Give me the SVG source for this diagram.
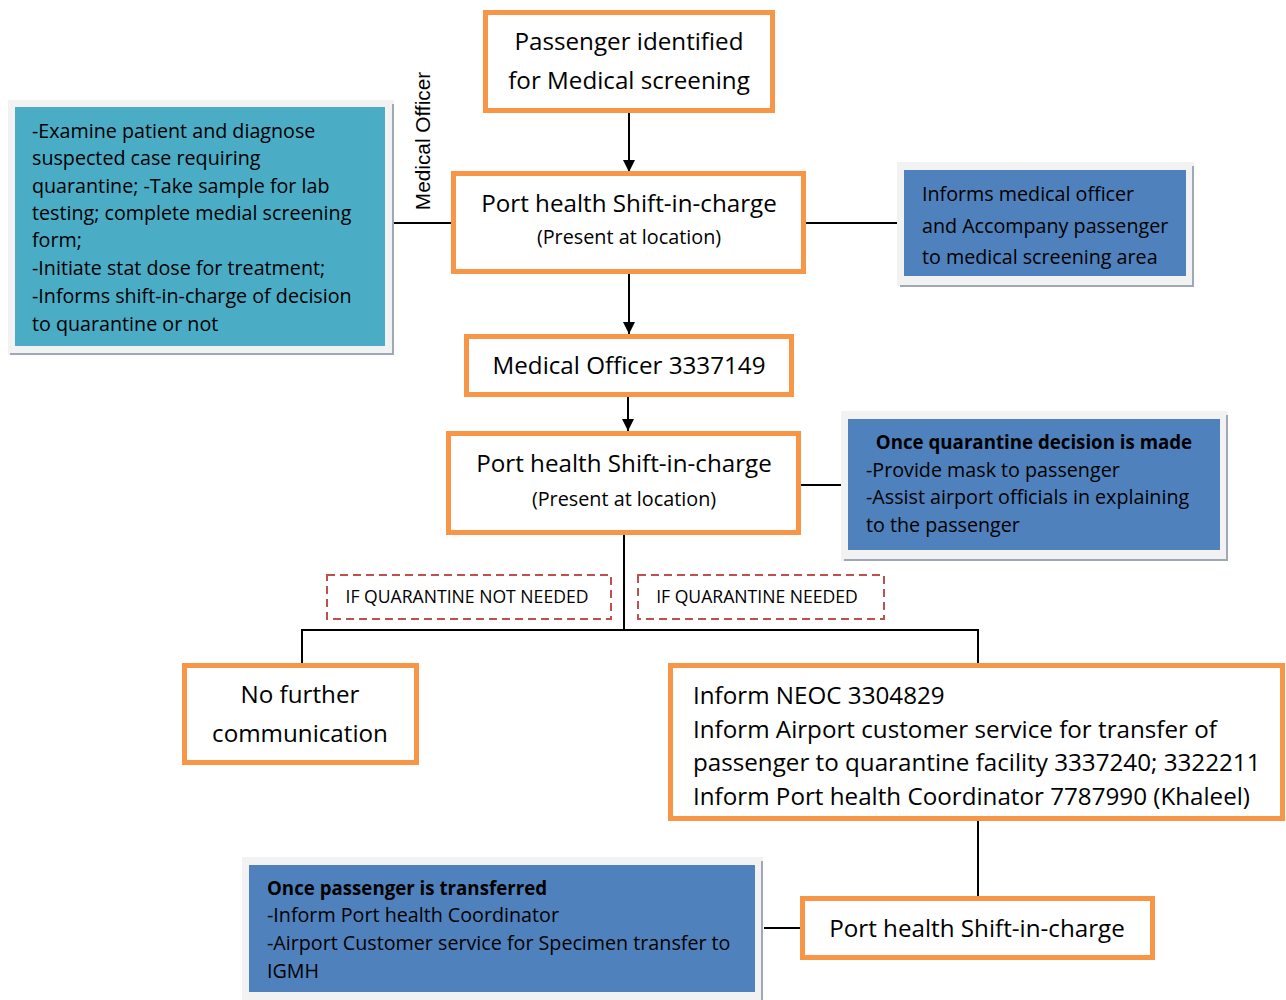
<svg xmlns="http://www.w3.org/2000/svg" width="1286" height="1000" viewBox="0 0 1286 1000">
<defs>
<style>
.box{fill:#fff;stroke:#F79646;stroke-width:5}
.frame{fill:#F2F2F2}
.shadow{stroke:#9EA9B5;stroke-width:2;fill:none}
.cyan{fill:#4BACC6}
.blue{fill:#4F81BD}
.dash{fill:none;stroke:#C0504D;stroke-width:2;stroke-dasharray:8 5}
.ln{stroke:#000;stroke-width:2;fill:none}
text{font-family:"Open Sans","Noto Sans",sans-serif;fill:#000}
.big{font-size:24.2px}
.sub{font-size:19.8px}
.mid{font-size:19.7px}
.sm{font-size:17.6px}
.b{font-weight:bold;font-size:18.7px}
.c{text-anchor:middle}
</style>
<marker id="arr" markerWidth="12" markerHeight="14" refX="12" refY="6" orient="auto" markerUnits="userSpaceOnUse">
<path d="M0,0 L12,6 L0,12 Z" fill="#000"/>
</marker>
</defs>

<g id="connectors">
<line class="ln" x1="629" y1="113" x2="629" y2="172" marker-end="url(#arr)"/>
<line class="ln" x1="390" y1="223" x2="453" y2="223"/>
<line class="ln" x1="806" y1="223" x2="898" y2="223"/>
<line class="ln" x1="629" y1="274" x2="629" y2="334" marker-end="url(#arr)"/>
<line class="ln" x1="628" y1="397" x2="628" y2="431" marker-end="url(#arr)"/>
<line class="ln" x1="801" y1="485" x2="842" y2="485"/>
<polyline class="ln" points="624,535 624,630"/>
<polyline class="ln" points="302,664 302,630 978,630 978,664"/>
<line class="ln" x1="978" y1="821" x2="978" y2="896"/>
<line class="ln" x1="764" y1="928" x2="800" y2="928"/>
</g>

<g id="label-medical-officer">
<text x="430" y="141" transform="rotate(-90 430 141)" class="c" style="font-family:'Liberation Sans',Arial,sans-serif;font-size:20.8px">Medical Officer</text>
</g>

<g id="n-passenger">
<rect class="box" x="485.5" y="12.5" width="287" height="98"/>
<text class="big c" x="629" y="50">Passenger identified</text>
<text class="big c" x="629" y="89">for Medical screening</text>
</g>

<g id="n-shift1">
<rect class="box" x="453.5" y="173.5" width="350" height="98"/>
<text class="big c" x="629" y="212">Port health Shift-in-charge</text>
<text class="sub c" x="629" y="244">(Present at location)</text>
</g>

<g id="n-mo-tasks">
<rect class="frame" x="8" y="100" width="386" height="255"/>
<polyline class="shadow" points="393,104 393,354 10,354"/>
<rect class="cyan" x="15" y="107" width="370" height="239"/>
<text class="mid" x="32" y="138">-Examine patient and diagnose</text>
<text class="mid" x="32" y="165">suspected case requiring</text>
<text class="mid" x="32" y="193">quarantine; -Take sample for lab</text>
<text class="mid" x="32" y="220">testing; complete medial screening</text>
<text class="mid" x="32" y="247">form;</text>
<text class="mid" x="32" y="275">-Initiate stat dose for treatment;</text>
<text class="mid" x="32" y="303">-Informs shift-in-charge of decision</text>
<text class="mid" x="32" y="331">to quarantine or not</text>
</g>

<g id="n-informs">
<rect class="frame" x="897" y="162" width="297" height="124"/>
<polyline class="shadow" points="1193,166 1193,286 900,286"/>
<rect class="blue" x="904" y="170" width="282" height="106"/>
<text class="mid" x="922" y="201">Informs medical officer</text>
<text class="mid" x="922" y="233">and Accompany passenger</text>
<text class="mid" x="922" y="264">to medical screening area</text>
</g>

<g id="n-mo">
<rect class="box" x="466.5" y="336.5" width="325" height="58"/>
<text class="big c" x="629" y="374">Medical Officer 3337149</text>
</g>

<g id="n-shift2">
<rect class="box" x="448.5" y="433.5" width="350" height="99"/>
<text class="big c" x="624" y="472">Port health Shift-in-charge</text>
<text class="sub c" x="624" y="506">(Present at location)</text>
</g>

<g id="n-decision">
<rect class="frame" x="841" y="411" width="387" height="150"/>
<polyline class="shadow" points="1227,415 1227,560 844,560"/>
<rect class="blue" x="848" y="419" width="372" height="131"/>
<text class="b c" x="1034" y="449">Once quarantine decision is made</text>
<text class="mid" x="866" y="477">-Provide mask to passenger</text>
<text class="mid" x="866" y="504">-Assist airport officials in explaining</text>
<text class="mid" x="866" y="532">to the passenger</text>
</g>

<g id="lbl-not-needed">
<rect class="dash" x="327" y="575" width="284" height="44"/>
<text class="sm c" x="467" y="603">IF QUARANTINE NOT NEEDED</text>
</g>

<g id="lbl-needed">
<rect class="dash" x="638" y="575" width="246" height="44"/>
<text class="sm c" x="757" y="603">IF QUARANTINE NEEDED</text>
</g>

<g id="n-nofurther">
<rect class="box" x="184.5" y="665.5" width="232" height="97"/>
<text class="big c" x="300" y="703">No further</text>
<text class="big c" x="300" y="742">communication</text>
</g>

<g id="n-inform">
<rect class="box" x="670.5" y="665.5" width="612" height="153"/>
<text class="big" x="693" y="704">Inform NEOC 3304829</text>
<text class="big" x="693" y="738">Inform Airport customer service for transfer of</text>
<text class="big" x="693" y="771">passenger to quarantine facility 3337240; 3322211</text>
<text class="big" x="693" y="805">Inform Port health Coordinator 7787990 (Khaleel)</text>
</g>

<g id="n-shift3">
<rect class="box" x="802.5" y="898.5" width="350" height="59"/>
<text class="big c" x="977" y="937">Port health Shift-in-charge</text>
</g>

<g id="n-transferred">
<rect class="frame" x="242" y="857" width="521" height="143"/>
<polyline class="shadow" points="762,861 762,1000"/>
<rect class="blue" x="249" y="865" width="506" height="127"/>
<text class="b" x="267" y="895">Once passenger is transferred</text>
<text class="mid" x="267" y="922">-Inform Port health Coordinator</text>
<text class="mid" x="267" y="950">-Airport Customer service for Specimen transfer to</text>
<text class="mid" x="267" y="978">IGMH</text>
</g>
</svg>
